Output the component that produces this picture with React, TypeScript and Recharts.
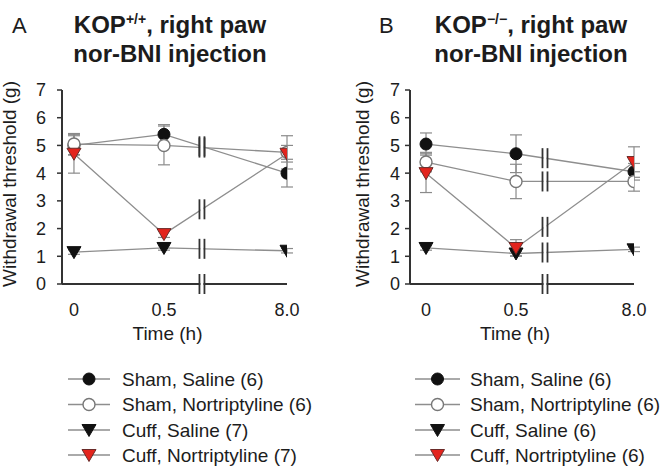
import React from 'react'
import { LineChart, Line, XAxis, YAxis, ErrorBar, ReferenceDot } from 'recharts'

// time points (broken axis: 0, 0.5, 8.0 h)
const timeLabels = ['0', '0.5', '8.0']
const yTicks = [0, 1, 2, 3, 4, 5, 6, 7]

const seriesNames = ['Sham, Saline', 'Sham, Nortriptyline', 'Cuff, Saline', 'Cuff, Nortriptyline']

// A: KOP+/+
const shamSalineA = [5.0, 5.4, 4.0]
const shamSalineSemA = [0.35, 0.35, 0.5]
const shamNortA = [5.05, 5.0, 4.75]
const shamNortSemA = [0.38, 0.7, 0.6]
const cuffSalineA = [1.15, 1.3, 1.2]
const cuffSalineSemA = [0.08, 0.08, 0.08]
const cuffNortA = [4.7, 1.8, 4.7]
const cuffNortSemA = [0.7, 0.12, 0.3]
const groupNA = [6, 6, 7, 7]

// B: KOP-/-
const shamSalineB = [5.05, 4.7, 4.05]
const shamSalineSemB = [0.4, 0.68, 0.3]
const shamNortB = [4.4, 3.7, 3.7]
const shamNortSemB = [0.35, 0.62, 0.35]
const cuffSalineB = [1.3, 1.1, 1.25]
const cuffSalineSemB = [0.08, 0.08, 0.08]
const cuffNortB = [4.0, 1.3, 4.4]
const cuffNortSemB = [0.7, 0.3, 0.55]
const groupNB = [6, 6, 6, 6]

const FONT = '"Liberation Sans", Arial, sans-serif'
const TEXT = '#1c1c1c'
const AXIS = '#333'
const LINE = '#8e8e8e'
const RED = '#e3241d'

type Kind = 'filled' | 'open' | 'tri' | 'redTri'
const kinds: Kind[] = ['filled', 'open', 'tri', 'redTri']
const keys = ['shamSaline', 'shamNort', 'cuffSaline', 'cuffNort']

function Marker({ kind, cx, cy }: { kind: Kind; cx?: number; cy?: number }) {
  if (cx == null || cy == null) return null
  if (kind === 'filled') return <circle cx={cx} cy={cy} r={6} fill="#111" stroke="#111" />
  if (kind === 'open') return <circle cx={cx} cy={cy} r={6} fill="#fff" stroke="#777" strokeWidth={1.4} />
  const fill = kind === 'redTri' ? RED : '#111'
  return (
    <polygon
      points={`${cx - 7},${cy - 5.5} ${cx + 7},${cy - 5.5} ${cx},${cy + 6.5}`}
      fill={fill}
      stroke={kind === 'redTri' ? '#6a2a28' : '#111'}
      strokeWidth={1}
    />
  )
}

function BreakMark({ cx, cy, h = 10 }: { cx?: number; cy?: number; h?: number }) {
  if (cx == null || cy == null) return null
  return (
    <g>
      <rect x={cx - 1.5} y={cy - h} width={3} height={h * 2} fill="#fff" />
      <line x1={cx - 2.5} x2={cx - 2.5} y1={cy - h} y2={cy + h} stroke={AXIS} strokeWidth={1.8} />
      <line x1={cx + 2.5} x2={cx + 2.5} y1={cy - h} y2={cy + h} stroke={AXIS} strokeWidth={1.8} />
    </g>
  )
}

interface Layout {
  pos: number[]
  brk: number
  xMin: number
  yAxisWidth: number
  tickMargin: number
  marginRight: number
  yLabelX: number
  letterX: number
  letter: string
  titleX: number
  superscript: string
  legendLineX: [number, number]
  legendTextX: number
}

interface PanelProps {
  values: number[][]
  sems: number[][]
  groupN: number[]
  layout: Layout
}

function Panel({ values, sems, groupN, layout }: PanelProps) {
  const data = timeLabels.map((t, i) => {
    const row: Record<string, number | string> = { time: t, pos: layout.pos[i] }
    keys.forEach((k, s) => {
      row[k] = values[s][i]
      row[k + 'Sem'] = sems[s][i]
    })
    return row
  })

  // where each line crosses the axis break (between 0.5 and 8.0)
  const f = (layout.brk - layout.pos[1]) / (layout.pos[2] - layout.pos[1])
  const breakYs = values.map(v => v[1] + (v[2] - v[1]) * f)

  const legendRows = [379, 404.5, 430, 455]
  const xMax = layout.pos[2]

  return (
    <div style={{ position: 'relative', width: 332, height: 466 }}>
      <svg width={332} height={80} style={{ position: 'absolute', left: 0, top: 0 }}>
        <text x={layout.letterX} y={33} fontSize={22} fontFamily={FONT} fill={TEXT}>
          {layout.letter}
        </text>
        <text x={layout.titleX} y={33} textAnchor="middle" fontSize={24} fontWeight="bold" fontFamily={FONT} fill={TEXT}>
          KOP
          <tspan dy={-9} fontSize={14}>{layout.superscript}</tspan>
          <tspan dy={9}>, right paw</tspan>
        </text>
        <text x={layout.titleX} y={62} textAnchor="middle" fontSize={24} fontWeight="bold" fontFamily={FONT} fill={TEXT}>
          nor-BNI injection
        </text>
      </svg>

      <div style={{ position: 'absolute', left: 0, top: 0 }}>
        <LineChart width={332} height={360} data={data} margin={{ top: 90, right: layout.marginRight, left: 0, bottom: 0 }}>
          <XAxis
            dataKey="pos"
            type="number"
            domain={[layout.xMin, xMax]}
            allowDataOverflow
            ticks={layout.pos}
            tickFormatter={(v: number) => timeLabels[layout.pos.indexOf(v)] ?? ''}
            height={76}
            tickLine={false}
            tickMargin={13}
            axisLine={{ stroke: AXIS, strokeWidth: 2 }}
            tick={{ fontSize: 18, fill: TEXT, fontFamily: FONT }}
            label={{ value: 'Time (h)', position: 'insideBottom', offset: 20, dx: -7, fontSize: 19, fill: TEXT, fontFamily: FONT }}
          />
          <YAxis
            type="number"
            domain={[0, 7]}
            ticks={yTicks}
            width={layout.yAxisWidth}
            tickSize={5}
            tickMargin={layout.tickMargin}
            axisLine={{ stroke: AXIS, strokeWidth: 2 }}
            tickLine={{ stroke: AXIS, strokeWidth: 1.5 }}
            tick={{ fontSize: 18, fill: TEXT, fontFamily: FONT }}
            label={{
              content: () => (
                <text
                  transform={`translate(${layout.yLabelX}, 184) rotate(-90)`}
                  textAnchor="middle"
                  fontSize={19}
                  fontFamily={FONT}
                  fill={TEXT}
                >
                  Withdrawal threshold (g)
                </text>
              ),
            }}
          />
          {keys.map((k, s) => (
            <Line
              key={k}
              dataKey={k}
              name={seriesNames[s]}
              stroke={LINE}
              strokeWidth={1.3}
              isAnimationActive={false}
              dot={(p: any) => <Marker key={`${k}-${p.index}`} kind={kinds[s]} cx={p.cx} cy={p.cy} />}
              activeDot={false}
            >
              <ErrorBar dataKey={k + 'Sem'} direction="y" width={6} stroke="#8a8a8a" strokeWidth={1.2} />
            </Line>
          ))}
          {breakYs.map((y, s) => (
            <ReferenceDot
              key={`brk-${s}`}
              x={layout.brk}
              y={y}
              r={1}
              ifOverflow="visible"
              shape={(p: any) => <BreakMark cx={p.cx} cy={p.cy} />}
            />
          ))}
          <ReferenceDot
            x={layout.brk}
            y={0}
            r={1}
            ifOverflow="visible"
            shape={(p: any) => <BreakMark cx={p.cx} cy={p.cy} />}
          />
        </LineChart>
      </div>

      <svg width={332} height={466} style={{ position: 'absolute', left: 0, top: 0, pointerEvents: 'none' }}>
        {seriesNames.map((name, s) => {
          const cy = legendRows[s]
          const [x1, x2] = layout.legendLineX
          return (
            <g key={name}>
              <line x1={x1} x2={x2} y1={cy} y2={cy} stroke={LINE} strokeWidth={1.3} />
              <Marker kind={kinds[s]} cx={(x1 + x2) / 2} cy={cy} />
              <text x={layout.legendTextX} y={cy + 6.5} fontSize={19} fontFamily={FONT} fill={TEXT}>
                {`${name} (${groupN[s]})`}
              </text>
            </g>
          )
        })}
      </svg>
    </div>
  )
}

const layoutA: Layout = {
  pos: [0, 1, 2.367],
  brk: 1.422,
  xMin: -0.133,
  yAxisWidth: 62,
  tickMargin: 11,
  marginRight: 45,
  yLabelX: 15.5,
  letterX: 12,
  letter: 'A',
  titleX: 170,
  superscript: '+/+',
  legendLineX: [68, 110],
  legendTextX: 122,
}

const layoutB: Layout = {
  pos: [0, 1, 2.311],
  brk: 1.322,
  xMin: -0.178,
  yAxisWidth: 78,
  tickMargin: 5,
  marginRight: 30,
  yLabelX: 36.5,
  letterX: 47,
  letter: 'B',
  titleX: 199,
  superscript: '\u2212/\u2212',
  legendLineX: [83, 128],
  legendTextX: 138,
}

export default function App() {
  return (
    <div style={{ position: 'absolute', left: 0, top: 0, width: 664, height: 466, background: '#fff', display: 'flex' }}>
      <Panel
        values={[shamSalineA, shamNortA, cuffSalineA, cuffNortA]}
        sems={[shamSalineSemA, shamNortSemA, cuffSalineSemA, cuffNortSemA]}
        groupN={groupNA}
        layout={layoutA}
      />
      <Panel
        values={[shamSalineB, shamNortB, cuffSalineB, cuffNortB]}
        sems={[shamSalineSemB, shamNortSemB, cuffSalineSemB, cuffNortSemB]}
        groupN={groupNB}
        layout={layoutB}
      />
    </div>
  )
}
